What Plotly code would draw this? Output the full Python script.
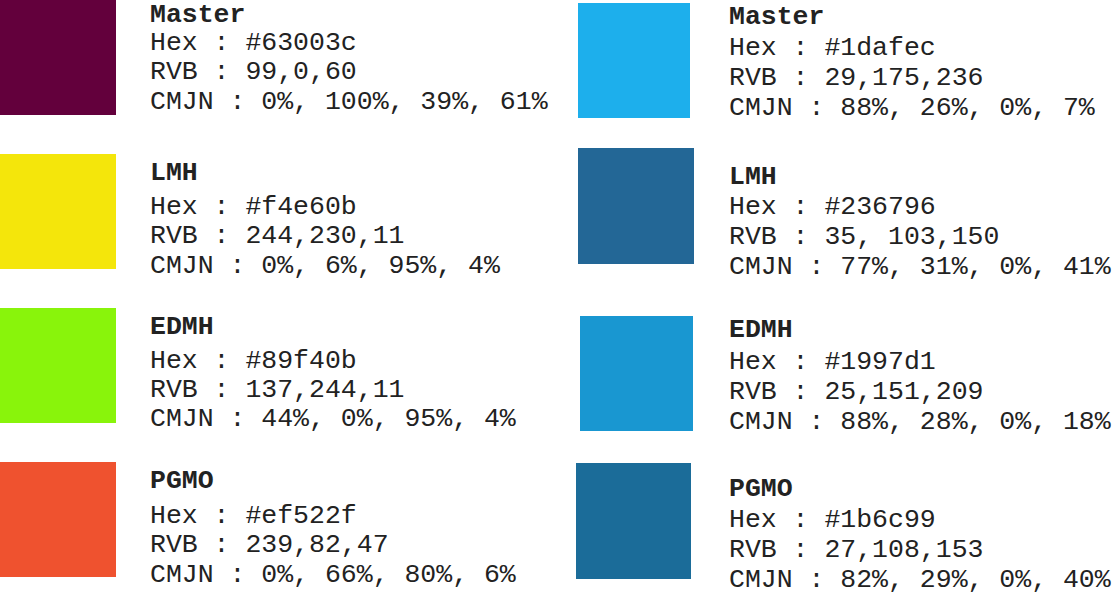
import plotly.graph_objects as go

# ---- data ----
names_left = ["Master", "LMH", "EDMH", "PGMO"]
hex_left = ["#63003c", "#f4e60b", "#89f40b", "#ef522f"]
rvb_left = ["99,0,60", "244,230,11", "137,244,11", "239,82,47"]
cmjn_left = ["0%, 100%, 39%, 61%", "0%, 6%, 95%, 4%", "44%, 0%, 95%, 4%", "0%, 66%, 80%, 6%"]

names_right = ["Master", "LMH", "EDMH", "PGMO"]
hex_right = ["#1dafec", "#236796", "#1997d1", "#1b6c99"]
rvb_right = ["29,175,236", "35, 103,150", "25,151,209", "27,108,153"]
cmjn_right = ["88%, 26%, 0%, 7%", "77%, 31%, 0%, 41%", "88%, 28%, 0%, 18%", "82%, 29%, 0%, 40%"]

# ---- layout (pixel positions) ----
box_left = [(0, 0, 116, 115), (0, 154, 116, 269), (0, 308, 116, 423), (0, 462, 116, 577)]
box_right = [(578, 3, 690, 118), (578, 148, 694, 264), (580, 316, 693, 431), (576, 463, 691, 579)]
text_left_x = 148
text_right_x = 727
rows_left = [(15, 43, 72, 102), (173, 207, 236, 266), (327, 361, 390, 419), (481, 516, 545, 575)]
rows_right = [(17, 48, 78, 108), (177, 207, 237, 267), (330, 362, 392, 422), (489, 520, 550, 580)]

FONT = "Liberation Mono, Courier New, monospace"
SIZE = 26.5

fig = go.Figure()
annotations = []
shapes = []


def add_column(names, hexes, rvbs, cmjns, boxes, tx, rows):
    for n, h, r, c, b, ry in zip(names, hexes, rvbs, cmjns, boxes, rows):
        shapes.append(dict(type="rect", xref="x", yref="y", x0=b[0], y0=b[1], x1=b[2], y1=b[3],
                           fillcolor=h, line=dict(width=0), layer="above"))
        lines = [f"<b>{n}</b>", f"Hex : {h}", f"RVB : {r}", f"CMJN : {c}"]
        for txt, y in zip(lines, ry):
            annotations.append(dict(x=tx, y=y, xref="x", yref="y", text=txt, showarrow=False,
                                    xanchor="left", yanchor="middle",
                                    font=dict(family=FONT, size=SIZE, color="#222222")))


add_column(names_left, hex_left, rvb_left, cmjn_left, box_left, text_left_x, rows_left)
add_column(names_right, hex_right, rvb_right, cmjn_right, box_right, text_right_x, rows_right)

fig.add_trace(go.Scatter(x=[0, 1114], y=[0, 598], mode="markers", marker=dict(opacity=0),
                         hoverinfo="skip", showlegend=False))

fig.update_layout(
    width=1114, height=598,
    margin=dict(l=0, r=0, t=0, b=0),
    paper_bgcolor="white", plot_bgcolor="white",
    xaxis=dict(range=[0, 1114], visible=False, fixedrange=True),
    yaxis=dict(range=[598, 0], visible=False, fixedrange=True),
    shapes=shapes, annotations=annotations, showlegend=False,
)

fig.write_html("out.html", config={"displayModeBar": False},
               post_script="document.body.style.margin='0';document.body.style.overflow='hidden';")
